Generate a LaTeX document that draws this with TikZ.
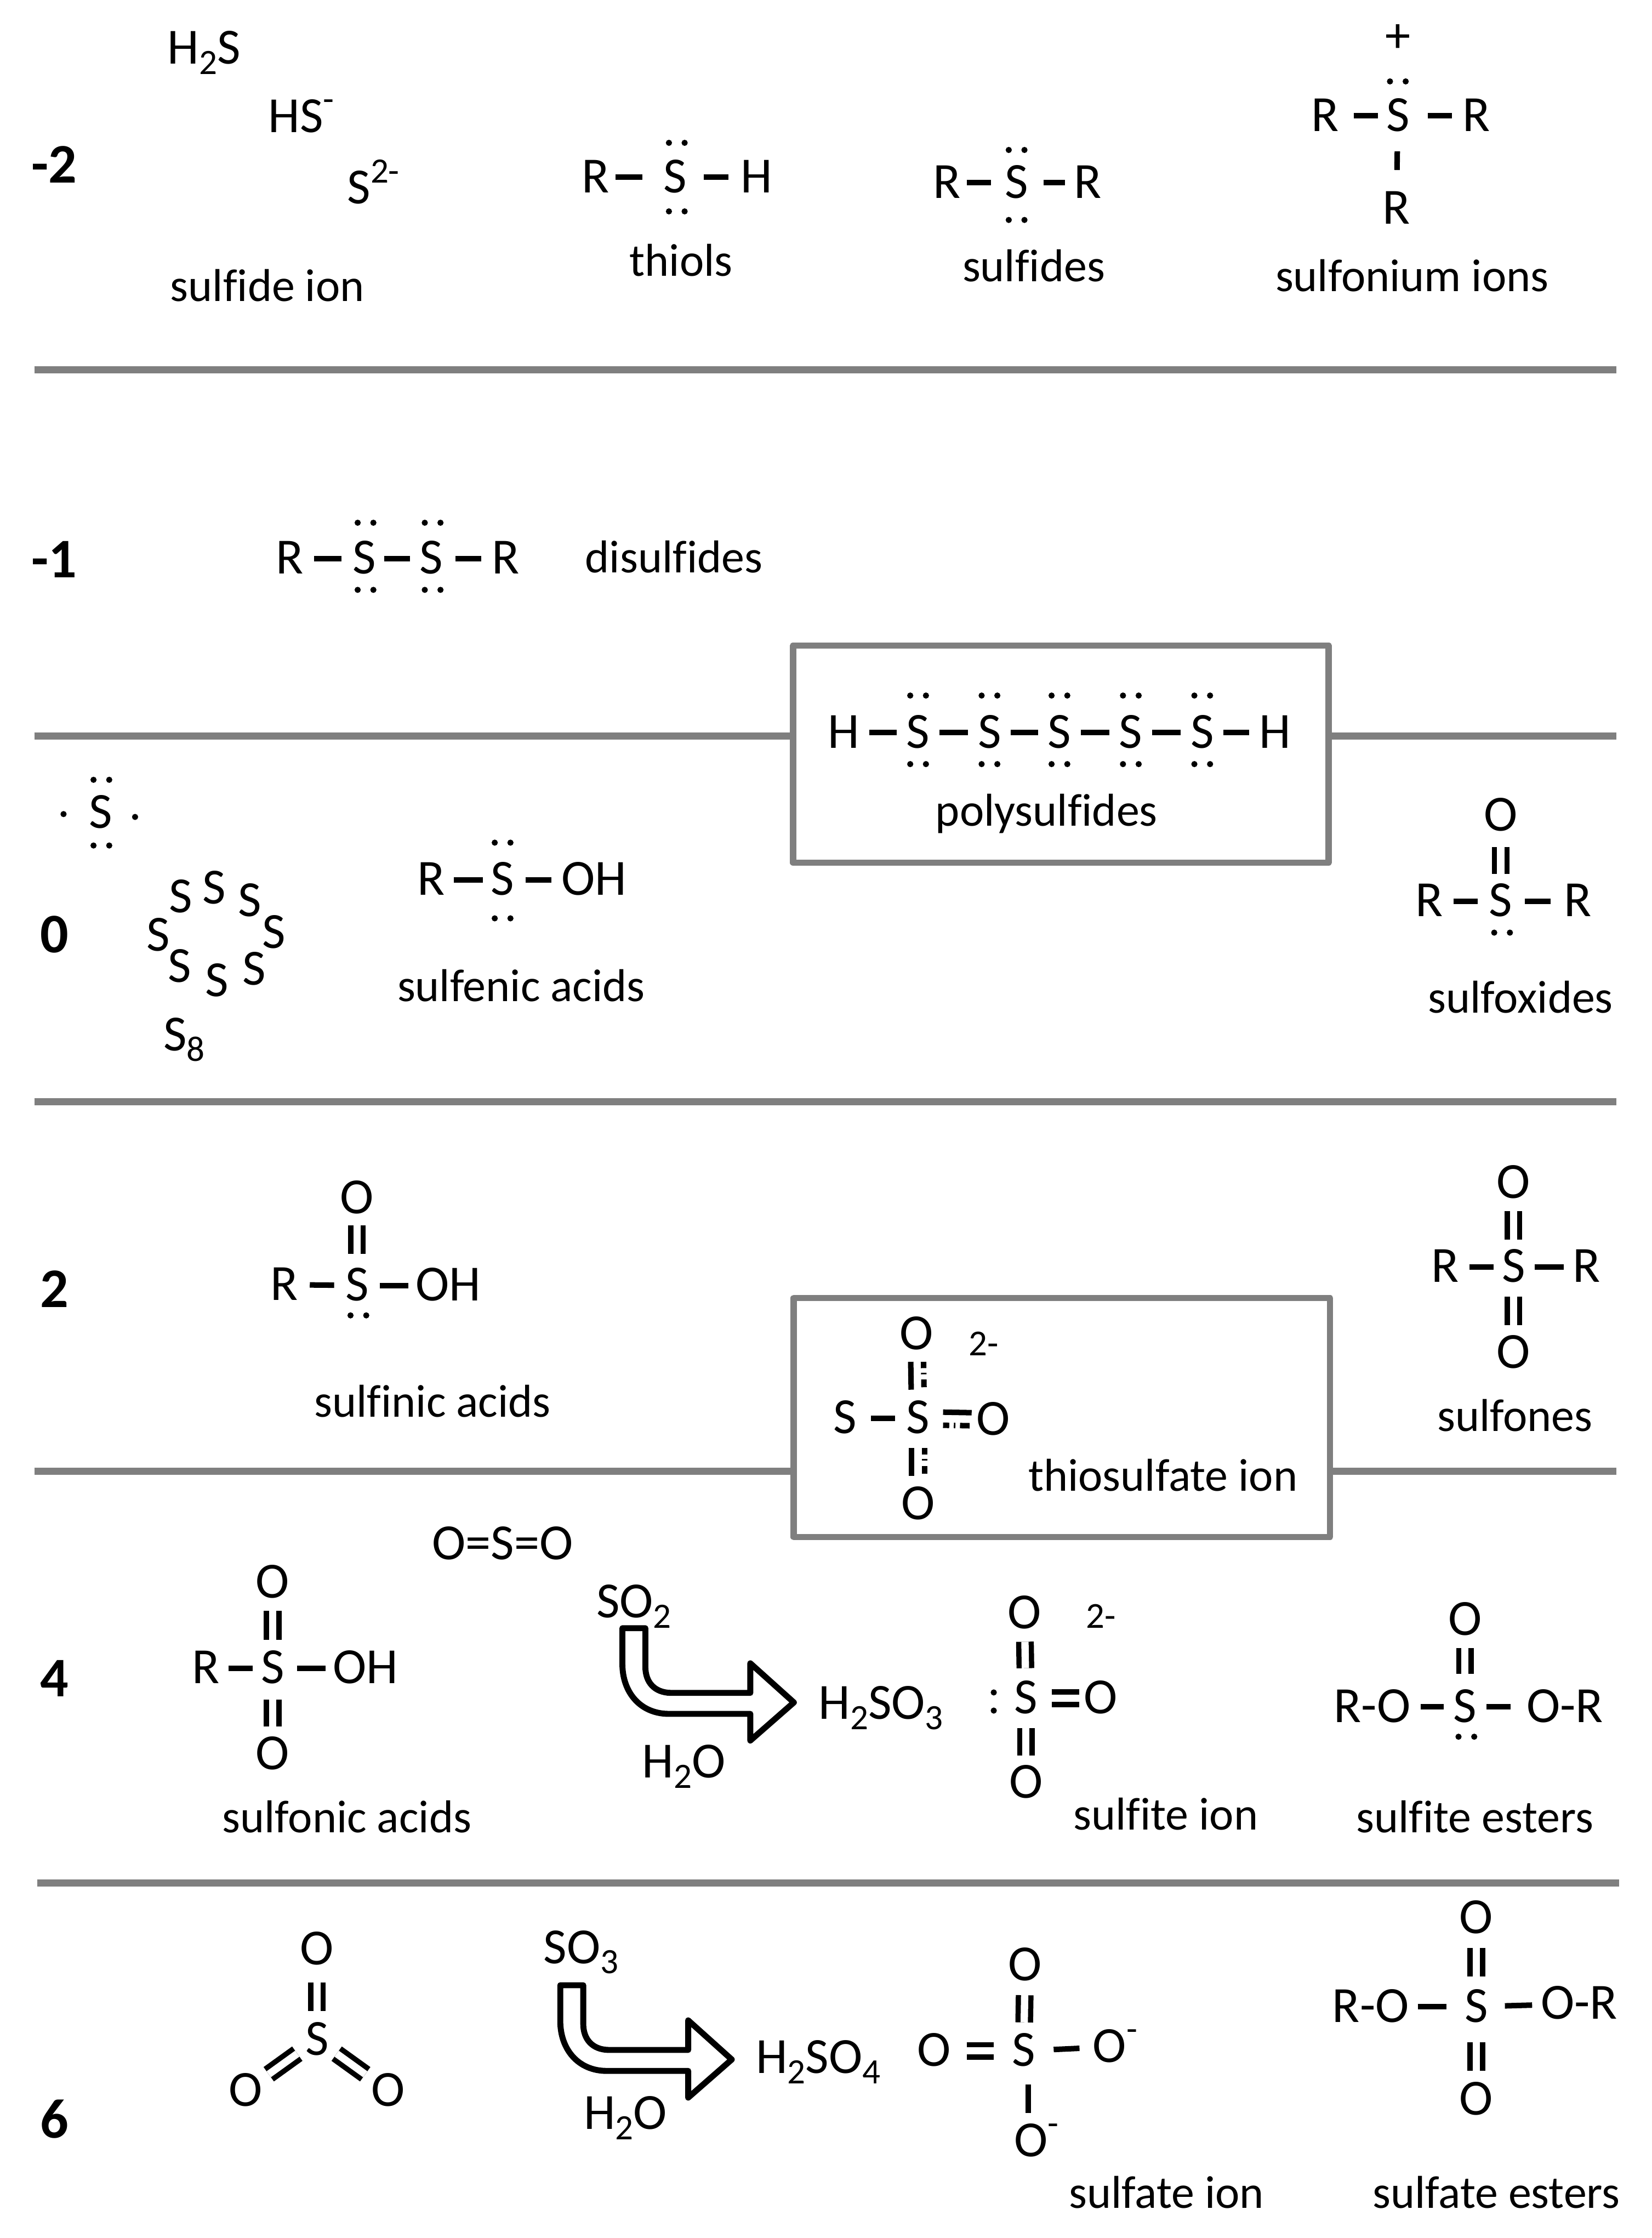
\documentclass[tikz,border=0pt]{standalone}
\usepackage{fontspec}
\usetikzlibrary{calc}
\setmainfont[Ligatures=NoCommon]{Carlito}
\definecolor{rulegray}{HTML}{7F7F7F}
\newcommand\sbs[1]{\raisebox{-0.2em}{\fontsize{18.5pt}{18.5pt}\selectfont #1}}
\newcommand\sps[1]{\raisebox{0.42em}{\fontsize{18.5pt}{18.5pt}\selectfont #1}}
\newcommand\lpair[2]{\fill ({#1-5.5},#2) circle[radius=1.6pt] ({#1+5.5},#2) circle[radius=1.6pt];}
\newcommand\bnd[4]{\draw[bond,shorten <=#3*0.7405pt,shorten >=#4*0.7405pt] (#1.center) -- (#2.center);}
\newcommand\dbl[4]{\draw[dblbond,shorten <=#3*0.7405pt,shorten >=#4*0.7405pt] (#1.center) -- (#2.center);}
\tikzset{
  atom/.style={inner sep=0pt,outer sep=0pt,font=\fontsize{26.3pt}{26.3pt}\selectfont,text height=16pt,text depth=0pt,anchor=center},
  lbl/.style={atom,font=\fontsize{23.9pt}{23.9pt}\selectfont,text height=15pt},
  level/.style={atom,font=\fontsize{29pt}{29pt}\selectfont\bfseries,text height=18.5pt},
  bond/.style={line width=2.85pt},
  dblbond/.style={line width=2.7pt,double,double distance=3.8pt},
  rule/.style={draw=rulegray,line width=3.7pt},
  graybox/.style={draw=rulegray,line width=3.2pt,line join=round,inner sep=0pt,outer sep=0pt},
  bigarrow/.style={draw=black,line width=3.1pt,line join=round},
}
\begin{document}
\begin{tikzpicture}[x=0.02605cm,y=-0.02605cm]
\path[use as bounding box,fill=white] (0,0) rectangle (1157,1567);
% rules
\coordinate (r1a) at (24,259); \coordinate (r1b) at (1132,259);
\coordinate (r2a) at (24,515.5); \coordinate (r2b) at (1132,515.5);
\coordinate (r3a) at (24,771.5); \coordinate (r3b) at (1132,771.5);
\coordinate (r4a) at (24,1030); \coordinate (r4b) at (1132,1030);
\coordinate (r5a) at (26,1318.5); \coordinate (r5b) at (1134,1318.5);
\node[graybox,minimum width=278pt,minimum height=112.6pt] (polybox) at (743,528) {};
\node[graybox,minimum width=278.4pt,minimum height=124pt] (thiobox) at (743.7,992.5) {};
\draw[rule] (r1a) -- (r1b);
\draw[rule] (r2a) -- (r2a -| polybox.west);
\draw[rule] (r2b -| polybox.east) -- (r2b);
\draw[rule] (r3a) -- (r3b);
\draw[rule] (r4a) -- (r4a -| thiobox.west);
\draw[rule] (r4b -| thiobox.east) -- (r4b);
\draw[rule] (r5a) -- (r5b);
% levels
\node[level] (lm2) at (38,115.5) {-2};
\node[level] (lm1) at (38,392) {-1};
\node[level] (l0) at (38,654.5) {0};
\node[level] (l2) at (38,903) {2};
\node[level] (l4) at (38,1175.5) {4};
\node[level] (l6) at (38,1484.5) {6};
% -2 row
\node[atom] (hhs) at (143,34) {H\sbs{2}S};
\node[atom] (hs) at (211,82) {HS\sps{-}};
\node[atom] (s2m) at (261.5,132) {S\sps{2-}};
\node[lbl] (t1) at (187.3,201) {sulfide ion};
\node[atom] (tR) at (417,124) {R};
\node[atom] (tS) at (473,124) {S};
\node[atom] (tH) at (530,124) {H};
\bnd{tR}{tS}{14}{23}\bnd{tS}{tH}{20}{20}
\lpair{474}{100}\lpair{474}{148}
\node[lbl] (t2) at (477,183) {thiols};
\node[atom] (sR1) at (663,128) {R};
\node[atom] (sS) at (712,128) {S};
\node[atom] (sR2) at (762,128) {R};
\bnd{sR1}{sS}{14}{18}\bnd{sS}{sR2}{19}{16}
\lpair{712}{105}\lpair{712}{154}
\node[lbl] (t3) at (724,187) {sulfides};
\node[atom] (uPlus) at (979,26) {+};
\node[atom] (uR1) at (928,81) {R};
\node[atom] (uS) at (979,81) {S};
\node[atom] (uR2) at (1034,81) {R};
\node[atom] (uR3) at (978,146) {R};
\bnd{uR1}{uS}{20}{14}\bnd{uS}{uR2}{21}{17}\bnd{uS}{uR3}{25}{27}
\lpair{979}{57}
\node[lbl] (t4) at (989,194) {sulfonium ions};
% -1 row
\node[atom] (dR1) at (203,391) {R};
\node[atom] (dS1) at (255,391) {S};
\node[atom] (dS2) at (302,391) {S};
\node[atom] (dR2) at (354,391) {R};
\bnd{dR1}{dS1}{17}{16}\bnd{dS1}{dS2}{14}{15}\bnd{dS2}{dR2}{17}{17}
\lpair{256}{366}\lpair{303}{366}\lpair{256}{413}\lpair{303}{413}
\node[lbl] (t5) at (472,391) {disulfides};
% polysulfide
\node[atom] (pH1) at (591,513) {H};
\node[atom] (pS1) at (643,513) {S};
\node[atom] (pS2) at (693,513) {S};
\node[atom] (pS3) at (742,513) {S};
\node[atom] (pS4) at (792,513) {S};
\node[atom] (pS5) at (842,513) {S};
\node[atom] (pH2) at (893,513) {H};
\bnd{pH1}{pS1}{18}{15}\bnd{pS1}{pS2}{15}{15}\bnd{pS2}{pS3}{15}{15}\bnd{pS3}{pS4}{15}{15}\bnd{pS4}{pS5}{15}{15}\bnd{pS5}{pH2}{15}{18}
\foreach \xx in {643,693,742,792,842}{\lpair{\xx}{487}\lpair{\xx}{535}}
\node[lbl] (t6) at (733,568) {polysulfides};
% S atom, S8
\node[atom] (aS) at (70.5,569) {S};
\lpair{71}{546}\lpair{71}{592}
\fill (44.5,570) circle[radius=1.6pt] (94.6,572) circle[radius=1.6pt];
\node[atom] (e1) at (126.7,628) {S};
\node[atom] (e2) at (150,622) {S};
\node[atom] (e3) at (175,631) {S};
\node[atom] (e4) at (192,653) {S};
\node[atom] (e5) at (111,655) {S};
\node[atom] (e6) at (126,677) {S};
\node[atom] (e7) at (152,687) {S};
\node[atom] (e8) at (178,679) {S};
\node[atom] (s8) at (129,725) {S\sbs{8}};
% sulfenic
\node[atom] (fR) at (302,616) {R};
\node[atom] (fS) at (352,616) {S};
\node[atom] (fOH) at (416,616) {OH};
\bnd{fR}{fS}{16}{14}\bnd{fS}{fOH}{16}{30}
\lpair{352}{590}\lpair{352}{643}
\node[lbl] (t7) at (365,691) {sulfenic acids};
% sulfoxide
\node[atom] (xO) at (1051,571) {O};
\node[atom] (xS) at (1051,631) {S};
\node[atom] (xR1) at (1001,631) {R};
\node[atom] (xR2) at (1105,631) {R};
\dbl{xO}{xS}{22}{19}\bnd{xR1}{xS}{17}{16}\bnd{xS}{xR2}{17}{19}
\lpair{1052}{653}
\node[lbl] (t8) at (1065,699) {sulfoxides};
% sulfinic
\node[atom] (iO) at (250,839) {O};
\node[atom] (iS) at (250,900) {S};
\node[atom] (iR) at (199,899.5) {R};
\node[atom] (iOH) at (314,900) {OH};
\dbl{iO}{iS}{19}{22}\bnd{iR}{iS}{18}{16}\bnd{iS}{iOH}{16}{28}
\lpair{251}{921}
\node[lbl] (t9) at (303,982) {sulfinic acids};
% sulfones
\node[atom] (oO1) at (1060,828) {O};
\node[atom] (oS) at (1060,887) {S};
\node[atom] (oR1) at (1012,887) {R};
\node[atom] (oR2) at (1111,887) {R};
\node[atom] (oO2) at (1060,947) {O};
\dbl{oO1}{oS}{20}{19}\dbl{oS}{oO2}{21}{19}\bnd{oR1}{oS}{17}{14}\bnd{oS}{oR2}{15}{16}
\node[lbl] (t10) at (1061,992) {sulfones};
% thiosulfate
\node[atom] (hO1) at (642,934) {O};
\node[atom] (hS1) at (592,993) {S};
\node[atom] (hS2) at (643,993) {S};
\node[atom] (hO2) at (695.5,994) {O};
\node[atom] (hO3) at (643,1053) {O};
\node[atom,font=\fontsize{19pt}{19pt}\selectfont,text height=12pt] (hCh) at (689,941) {2-};
\bnd{hS1}{hS2}{18}{16}
\begin{scope}[transform canvas={xshift=-4.5*0.7405pt}]
\draw[bond,shorten <=19.5*0.7405pt,shorten >=20*0.7405pt] (hO1.center) -- (hS2.center);
\draw[bond,shorten <=21*0.7405pt,shorten >=19.5*0.7405pt] (hS2.center) -- (hO3.center);
\end{scope}
\begin{scope}[transform canvas={xshift=4.5*0.7405pt}]
\draw[bond,dash pattern=on 3.3pt off 2.4pt on 0.8pt off 2.7pt on 4pt off 9pt,shorten <=19.5*0.7405pt,shorten >=20*0.7405pt] (hO1.center) -- (hS2.center);
\draw[bond,dash pattern=on 3.3pt off 2.4pt on 0.8pt off 2.7pt on 4pt off 9pt,shorten <=21*0.7405pt,shorten >=19.5*0.7405pt] (hS2.center) -- (hO3.center);
\end{scope}
\begin{scope}[transform canvas={yshift=3.4pt}]
\draw[bond,shorten <=17.5*0.7405pt,shorten >=15*0.7405pt] (hS2.center) -- (hO2.center);
\end{scope}
\begin{scope}[transform canvas={yshift=-3.4pt}]
\draw[bond,dash pattern=on 3.2pt off 2.4pt on 0.8pt off 2.4pt on 5pt off 9pt,shorten <=17.5*0.7405pt,shorten >=15*0.7405pt] (hS2.center) -- (hO2.center);
\end{scope}
\node[lbl] (t11) at (814.5,1034) {thiosulfate ion};
% sulfonic
\node[atom] (nO1) at (191,1108) {O};
\node[atom] (nS) at (191,1168) {S};
\node[atom] (nR) at (144,1168) {R};
\node[atom] (nOH) at (256,1168) {OH};
\node[atom] (nO2) at (191,1228) {O};
\dbl{nO1}{nS}{20}{20}\dbl{nS}{nO2}{22}{19}\bnd{nR}{nS}{16}{14}\bnd{nS}{nOH}{17}{28}
\node[lbl] (t12) at (243,1273) {sulfonic acids};
% SO2
\node[atom] (mol2) at (352,1081) {O=S=O};
\node[atom] (so2) at (444,1122) {SO\sbs{2}};
\node[atom] (w1) at (479,1234) {H\sbs{2}O};
\path[bigarrow,shift={(43.5,-250)}] (392.4,1390) -- (392.4,1415) .. controls (392.4,1435) and (405,1450) .. (425,1450) -- (482,1450) -- (482,1468.7) -- (512.5,1442) -- (482,1414.6) -- (482,1435.3) -- (426,1435.3) .. controls (415,1435) and (408.5,1428) .. (408.5,1417) -- (408.5,1390) -- cycle;
\node[atom] (acid1) at (617,1193) {H\sbs{2}SO\sbs{3}};
% sulfite ion
\node[atom] (qO1) at (717.5,1129.5) {O};
\node[atom,font=\fontsize{19pt}{19pt}\selectfont,text height=12pt] (qCh) at (771,1132) {2-};
\node[atom] (qS) at (718.5,1189) {S};
\node[atom] (qO2) at (771,1189) {O};
\node[atom] (qO3) at (718.5,1248) {O};
\dbl{qO1}{qS}{20}{21}\dbl{qS}{qO3}{21}{19}\dbl{qS}{qO2}{18}{15}
\fill (696,1185) circle[radius=1.6pt] (696,1197.7) circle[radius=1.6pt];
\node[lbl] (t13) at (816.5,1271) {sulfite ion};
% sulfite esters
\node[atom] (gOR1) at (961,1195) {R-O};
\node[atom] (gS) at (1026,1195) {S};
\node[atom] (gOR2) at (1096,1195) {O-R};
\node[atom] (gO) at (1026,1134) {O};
\bnd{gOR1}{gS}{34}{15}\bnd{gS}{gOR2}{15}{38}
\dbl{gO}{gS}{20}{23}
\lpair{1027}{1216}
\node[lbl] (t14) at (1033,1273) {sulfite esters};
% SO3 molecule
\node[atom] (vO1) at (222,1365) {O};
\node[atom] (vS) at (222,1428) {S};
\node[atom] (vO2) at (172,1464) {O};
\node[atom] (vO3) at (272,1464) {O};
\dbl{vO1}{vS}{23}{20}\dbl{vS}{vO2}{17}{20}\dbl{vS}{vO3}{17}{20}
\node[atom] (so3) at (407,1364) {SO\sbs{3}};
\node[atom] (w2) at (438,1480) {H\sbs{2}O};
\path[bigarrow] (392.4,1390) -- (392.4,1415) .. controls (392.4,1435) and (405,1450) .. (425,1450) -- (482,1450) -- (482,1468.7) -- (512.5,1442) -- (482,1414.6) -- (482,1435.3) -- (426,1435.3) .. controls (415,1435) and (408.5,1428) .. (408.5,1417) -- (408.5,1390) -- cycle;
\node[atom] (acid2) at (573,1441) {H\sbs{2}SO\sbs{4}};
% sulfate ion
\node[atom] (jO1) at (654,1436) {O};
\node[atom] (jS) at (717,1436) {S};
\node[atom] (jO2) at (718,1376) {O};
\node[atom] (jO3) at (781,1433) {O\sps{-}};
\node[atom] (jO4) at (726,1499) {O\sps{-}};
\dbl{jO1}{jS}{23}{21}\dbl{jO2}{jS}{21}{20}
\bnd{jS}{jO3}{21}{25}
\draw[bond] ($(jS.center)+(3,23.5)$) -- ($(jO4.center)+(-6,-19.5)$);
\node[lbl] (t15) at (817,1536) {sulfate ion};
% sulfate esters
\node[atom] (kOR1) at (960,1405) {R-O};
\node[atom] (kS) at (1034,1405) {S};
\node[atom] (kOR2) at (1106,1403) {O-R};
\node[atom] (kO1) at (1034,1343) {O};
\node[atom] (kO2) at (1034,1470) {O};
\bnd{kOR1}{kS}{33}{21}
\bnd{kS}{kOR2}{20}{33}
\dbl{kO1}{kS}{21}{21}\dbl{kS}{kO2}{25}{20}
\node[lbl] (t16) at (1048,1536) {sulfate esters};
\end{tikzpicture}
\end{document}
